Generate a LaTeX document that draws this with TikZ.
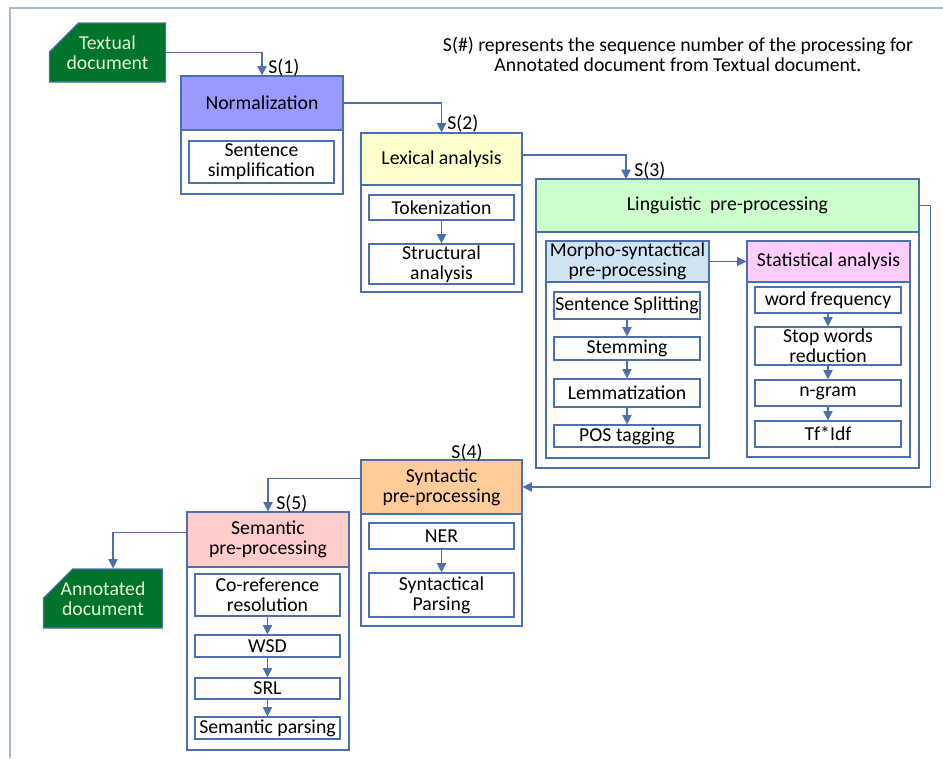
\documentclass[tikz,border=0pt]{standalone}
\usepackage{fontspec}
\setmainfont{Carlito}
\usetikzlibrary{arrows.meta,shapes.misc}
\definecolor{linec}{HTML}{4A70B0}
\definecolor{framec}{HTML}{A8B8D0}
\definecolor{normc}{HTML}{9999FF}
\definecolor{lexc}{HTML}{FFFFCC}
\definecolor{lingc}{HTML}{CCFFCC}
\definecolor{morphc}{HTML}{CFE3F3}
\definecolor{statc}{HTML}{FFCCFF}
\definecolor{sync}{HTML}{FFCC99}
\definecolor{semc}{HTML}{FFCCCC}
\definecolor{docc}{HTML}{00742A}
\definecolor{doct}{HTML}{E8F4D8}
\begin{document}
\begin{tikzpicture}[x=0.75pt,y=-0.75pt,
    font=\fontsize{14.8}{15.2}\selectfont,
    sz/.style 2 args={minimum width=#1*0.75pt,minimum height=#2*0.75pt},
    box/.style={draw=linec,line width=0.9pt,rectangle,inner sep=0pt,align=center},
    doc/.style={chamfered rectangle,chamfered rectangle corners=north west,
      chamfered rectangle xsep=16pt,chamfered rectangle ysep=9pt,
      draw=linec,line width=0.9pt,fill=docc,text=doct,inner sep=0pt,align=center},
    arr/.style={draw=linec,line width=0.9pt,-{Triangle[length=7pt,width=7pt]}},
    slbl/.style={inner sep=0pt,anchor=west}]
  \useasboundingbox (0,0) rectangle (943,758);
  \draw[framec,line width=0.8pt] (10,758) -- (10,8) -- (943,8);
  \node[align=center,inner sep=0pt] (note) at (678,54)
    {S(\#) represents the sequence number of the processing for\\
     Annotated document from Textual document.};
  % documents
  \node[doc,sz={115}{59}] (textual) at (107.5,52.5) {Textual\\document};
  \node[doc,sz={114}{59}] (annot) at (103,598.5) {Annotated\\document};
  % S(1) normalization
  \node[box,sz={162}{118}] (normgrp) at (262,135) {};
  \node[box,sz={162}{54},fill=normc] (norm) at (262,103) {Normalization};
  \node[box,sz={145}{42}] (simp) at (261.5,162) {Sentence\\simplification};
  % S(2) lexical analysis
  \node[box,sz={161}{159}] (lexgrp) at (441.5,212.5) {};
  \node[box,sz={161}{52},fill=lexc] (lex) at (441.5,159) {Lexical analysis};
  \node[box,sz={145}{25}] (tok) at (441.5,207.5) {Tokenization};
  \node[box,sz={145}{40}] (struct) at (441.5,264) {Structural\\analysis};
  % S(3) linguistic pre-processing
  \node[box,sz={383}{289}] (linggrp) at (727.5,323.5) {};
  \node[box,sz={383}{53},fill=lingc] (ling) at (727.5,205.5) {Linguistic~ pre-processing};
  \node[box,sz={163}{217}] (morphgrp) at (627.5,349.5) {};
  \node[box,sz={163}{41},fill=morphc] (morph) at (627.5,261.5) {Morpho-syntactical\\pre-processing};
  \node[box,sz={146}{27}] (split) at (627,305.5) {Sentence Splitting};
  \node[box,sz={146}{23}] (stem) at (627,348.5) {Stemming};
  \node[box,sz={146}{28}] (lemma) at (627,393) {Lemmatization};
  \node[box,sz={146}{22}] (pos) at (627,436) {POS tagging};
  \node[box,sz={163}{216}] (statgrp) at (828.5,349) {};
  \node[box,sz={163}{41},fill=statc] (stat) at (828.5,261.5) {Statistical analysis};
  \node[box,sz={146}{26}] (freq) at (828,300) {word frequency};
  \node[box,sz={146}{38}] (stop) at (828,346) {Stop words\\reduction};
  \node[box,sz={146}{26}] (ngram) at (828,393) {n-gram};
  \node[box,sz={146}{26}] (tfidf) at (828,434) {Tf*Idf};
  % S(4) syntactic pre-processing
  \node[box,sz={161}{166}] (syngrp) at (441.5,543) {};
  \node[box,sz={161}{54},fill=sync] (syn) at (441.5,487) {Syntactic\\pre-processing};
  \node[box,sz={145}{26}] (ner) at (441.5,536) {NER};
  \node[box,sz={145}{44}] (parse) at (441.5,595) {Syntactical\\Parsing};
  % S(5) semantic pre-processing
  \node[box,sz={162}{238}] (semgrp) at (268,631) {};
  \node[box,sz={162}{55},fill=semc] (sem) at (268,539.5) {Semantic\\pre-processing};
  \node[box,sz={145}{42}] (coref) at (267.5,595) {Co-reference\\resolution};
  \node[box,sz={145}{22}] (wsd) at (267.5,646) {WSD};
  \node[box,sz={145}{21}] (srl) at (267.5,688.5) {SRL};
  \node[box,sz={145}{22}] (sparse) at (267.5,728) {Semantic parsing};
  % sequence labels
  \node[slbl] (s1) at (268,68) {S(1)};
  \node[slbl] (s2) at (447,124) {S(2)};
  \node[slbl] (s3) at (634,171) {S(3)};
  \node[inner sep=0pt] (s4) at (467,453) {S(4)};
  \node[slbl] (s5) at (276,504) {S(5)};
  \coordinate (in3) at (626,179);
  % connectors
  \draw[arr] (textual) -| (norm);
  \draw[arr] (norm) -| (lex);
  \draw[arr] (lex.east |- 0,155) -| (in3);
  \draw[arr] (ling.east) -- ++(11,0) |- (syn);
  \draw[arr] (syn.174) -| (sem);
  \draw[arr] (sem.175) -| ([xshift=7.5pt]annot.north);
  \draw[arr] (tok) -- (struct);
  \draw[arr] (morph) -- (stat);
  \draw[arr] (split) -- (stem);
  \draw[arr] (stem) -- (lemma);
  \draw[arr] (lemma) -- (pos);
  \draw[arr] (freq) -- (stop);
  \draw[arr] (stop) -- (ngram);
  \draw[arr] (ngram) -- (tfidf);
  \draw[arr] (ner) -- (parse);
  \draw[arr] (coref) -- (wsd);
  \draw[arr] (wsd) -- (srl);
  \draw[arr] (srl) -- (sparse);
\end{tikzpicture}
\end{document}
